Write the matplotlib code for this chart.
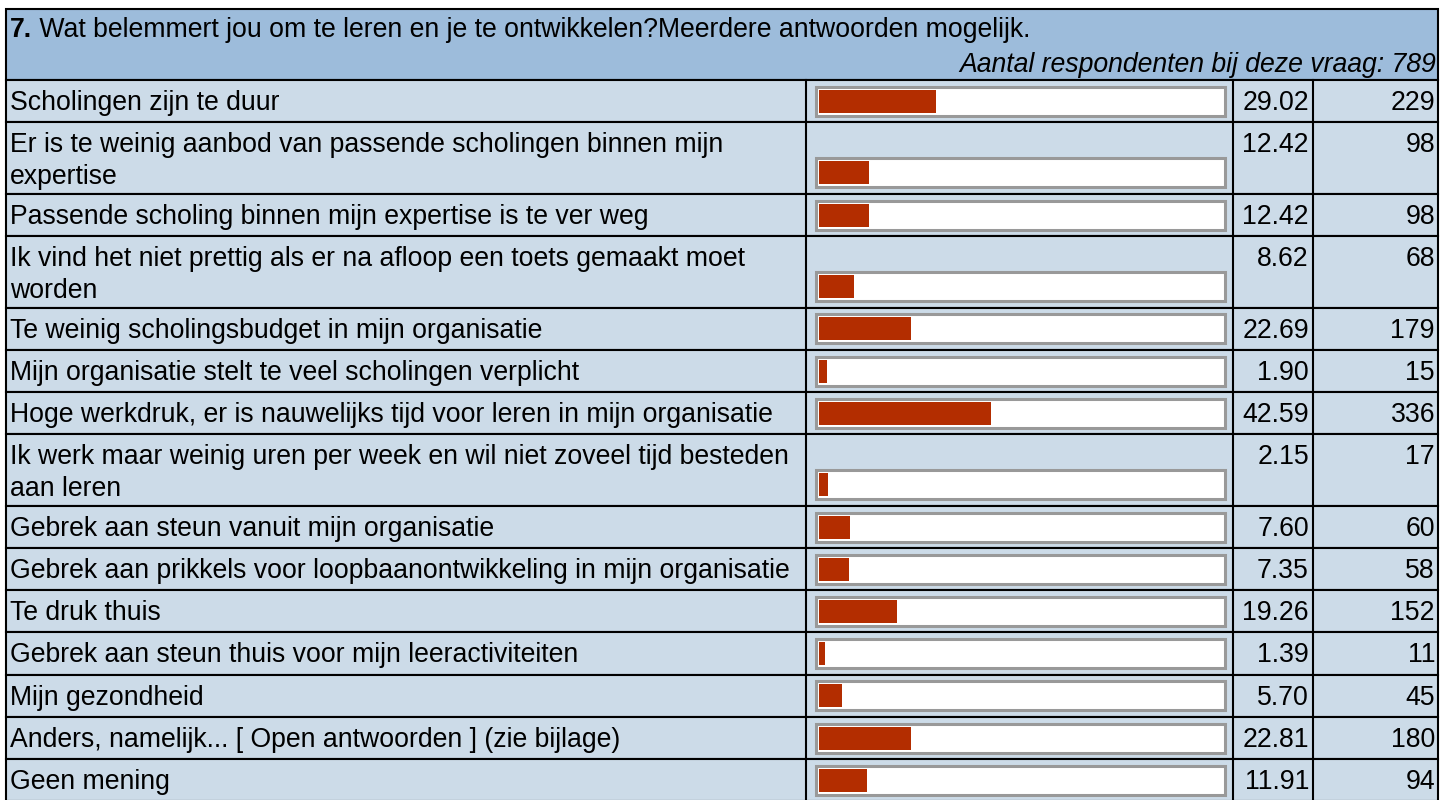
import matplotlib
matplotlib.use("Agg")
import matplotlib.pyplot as plt
from matplotlib.patches import Rectangle

plt.rcParams["font.family"] = ["Liberation Sans", "DejaVu Sans"]

# ---- data -------------------------------------------------------------
question_no = "7."
question = " Wat belemmert jou om te leren en je te ontwikkelen?Meerdere antwoorden mogelijk."
respondents_note = "Aantal respondenten bij deze vraag: 789"

labels = [
    "Scholingen zijn te duur",
    "Er is te weinig aanbod van passende scholingen binnen mijn\nexpertise",
    "Passende scholing binnen mijn expertise is te ver weg",
    "Ik vind het niet prettig als er na afloop een toets gemaakt moet\nworden",
    "Te weinig scholingsbudget in mijn organisatie",
    "Mijn organisatie stelt te veel scholingen verplicht",
    "Hoge werkdruk, er is nauwelijks tijd voor leren in mijn organisatie",
    "Ik werk maar weinig uren per week en wil niet zoveel tijd besteden\naan leren",
    "Gebrek aan steun vanuit mijn organisatie",
    "Gebrek aan prikkels voor loopbaanontwikkeling in mijn organisatie",
    "Te druk thuis",
    "Gebrek aan steun thuis voor mijn leeractiviteiten",
    "Mijn gezondheid",
    "Anders, namelijk... [ Open antwoorden ] (zie bijlage)",
    "Geen mening",
]
percentages = [29.02, 12.42, 12.42, 8.62, 22.69, 1.90, 42.59, 2.15,
               7.60, 7.35, 19.26, 1.39, 5.70, 22.81, 11.91]
counts = [229, 98, 98, 68, 179, 15, 336, 17, 60, 58, 152, 11, 45, 180, 94]

# ---- style ------------------------------------------------------------
W, H = 1441, 800
HEADER_BG = "#9dbcdb"
ROW_BG = "#ccdbe8"
BAR = "#b32d00"
FRAME = "#999999"
FS = 19.2
LW = 1.5

fig = plt.figure(figsize=(W / 100, H / 100), dpi=100)
ax = fig.add_axes([0, 0, 1, 1])
ax.set_xlim(0, W)
ax.set_ylim(H, 0)
ax.axis("off")

left, right = 6, 1438
col_bar, col_pct, col_cnt = 806, 1233, 1313
top, header_bottom = 9, 80

# header
ax.add_patch(Rectangle((left, top), right - left, header_bottom - top,
                       facecolor=HEADER_BG, edgecolor="black", lw=LW))
t_no = ax.text(10, 37, question_no, fontsize=FS, fontweight="bold", va="baseline")
fig.canvas.draw()
bb = t_no.get_window_extent()
x_after = ax.transData.inverted().transform((bb.x1, bb.y0))[0]
ax.text(x_after, 37, question, fontsize=FS, va="baseline")
ax.text(1436, 72, respondents_note, fontsize=FS, style="italic",
        ha="right", va="baseline")

# rows
y = header_bottom
for lab, pct, cnt in zip(labels, percentages, counts):
    lines = lab.split("\n")
    h = 71.6 if len(lines) > 1 else 42.2
    ax.add_patch(Rectangle((left, y), right - left, h, facecolor=ROW_BG,
                           edgecolor="black", lw=LW, zorder=1))
    for xc in (col_bar, col_pct, col_cnt):
        ax.plot([xc, xc], [y, y + h], color="black", lw=LW, zorder=2)
    for i, line in enumerate(lines):
        ax.text(10, y + 30 + 32 * i, line, fontsize=FS, va="baseline", ha="left")
    # box for bar, bottom aligned in the row
    box_bottom = y + h - 5
    box_top = box_bottom - 32
    ax.add_patch(Rectangle((815.5, box_top + 1.5), 409, 29, facecolor="white",
                           edgecolor=FRAME, lw=2.2, zorder=3))
    bax = fig.add_axes([819 / W, 1 - (box_bottom - 4.5) / H, 404 / W, 23 / H])
    bax.barh([0], [pct], height=1, color=BAR, align="center")
    bax.set_xlim(0, 100)
    bax.set_ylim(-0.5, 0.5)
    bax.axis("off")
    ax.text(1309, y + 30, f"{pct:.2f}", fontsize=FS, ha="right", va="baseline")
    ax.text(1435, y + 30, f"{cnt}", fontsize=FS, ha="right", va="baseline")
    y += h

fig.savefig("out.png", dpi=100)
